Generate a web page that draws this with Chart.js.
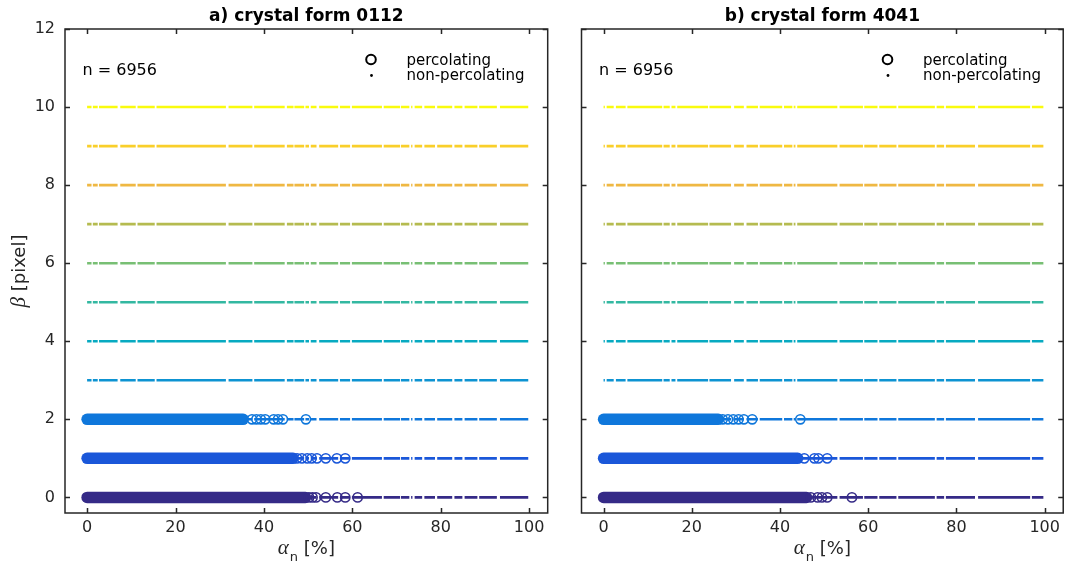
<!DOCTYPE html>
<html>
<head>
<meta charset="utf-8">
<script src="https://cdn.jsdelivr.net/npm/chart.js@4.4.1/dist/chart.umd.min.js"></script>
<style>
  html, body { margin: 0; padding: 0; background: #fff; overflow: hidden; }
  #wrap { position: relative; width: 1065px; height: 570px; }
  canvas { position: absolute; top: 0; }
  #cA { left: 0; }
  #cB { left: 560px; }
</style>
</head>
<body>
<div id="wrap">
  <canvas id="cA" width="560" height="570"></canvas>
  <canvas id="cB" width="505" height="570"></canvas>
</div>
<script>
// ---- data ---------------------------------------------------------------
const alphaTicks = [0, 20, 40, 60, 80, 100];
const betaTicks = [0, 2, 4, 6, 8, 10, 12];
const betaLevels = [0, 1, 2, 3, 4, 5, 6, 7, 8, 9, 10];
const levelColors = ['#352a87', '#1a57d9', '#0f77db', '#0d93d2', '#07aac1', '#33b8a1',
                     '#78bf74', '#b5bb50', '#efb843', '#f9cf2a', '#f9fb0e'];
const sampleCount = 6956;

// alpha runs [from, to] covered by non-percolating samples (same for every beta)
const runsA = [[0, 1.0], [1.3, 2.4], [2.7, 6.9], [7.5, 11], [11.4, 15.3], [15.7, 31.4],
  [32, 37.4], [37.8, 44.7], [45.2, 46.7], [46.9, 49.1], [49.4, 50.2], [50.6, 51.9],
  [52.5, 56.8], [57.2, 59.5], [59.9, 66.7], [67.1, 70.8], [71, 72.9], [73.3, 73.6],
  [74.1, 75.8], [76.3, 78.7], [79.2, 82.6], [83.1, 84.9], [85.4, 88.3], [88.7, 92.7],
  [93.4, 99.8]];
const runsB = [[0, 0.3], [0.7, 2.3], [2.8, 5.0], [5.4, 13.3], [13.6, 15], [15.4, 16.3],
  [16.7, 23.7], [24, 28.9], [29.6, 31.8], [32.4, 35], [35.4, 40.5], [40.9, 42.8],
  [43.1, 43.5], [43.9, 53], [53.5, 58.8], [59.1, 62.1], [62.5, 66.4], [66.8, 75.1],
  [75.5, 77.2], [77.6, 84.2], [84.9, 96.7], [97.1, 99.7]];

// percolating samples: dense range from alpha = 0 up to bandEnd, plus isolated samples
const bandEndA = [49.4, 46.6, 35.3];
const percA = [
  [50.2, 51.0, 51.8, 54.0, 56.6, 58.4, 61.2],
  [47.5, 48.6, 49.8, 50.8, 52.0, 54.0, 56.5, 58.4],
  [37.3, 38.3, 39.3, 40.3, 42.2, 43.2, 44.3, 49.5]
];
const bandEndB = [46.0, 44.0, 26.0];
const percB = [
  [47.0, 48.5, 49.5, 50.7, 56.3],
  [45.5, 47.8, 48.7, 50.7],
  [27.0, 28.2, 29.4, 30.6, 31.8, 33.7, 44.6]
];

// ---- drawing ------------------------------------------------------------
const axisColor = '#262626';
const sansFont = '"DejaVu Sans", "Liberation Sans", sans-serif';
const greekFont = '"Liberation Serif", "DejaVu Serif", serif';

const decor = {
  id: 'decor',
  afterDraw(chart, args, o) {
    const ctx = chart.ctx, a = chart.chartArea;
    const xs = chart.scales.x, ys = chart.scales.y;
    ctx.save();

    // axes box with inward ticks on all four sides
    ctx.strokeStyle = axisColor;
    ctx.lineWidth = 1.5;
    ctx.strokeRect(a.left, a.top, a.right - a.left, a.bottom - a.top);
    ctx.beginPath();
    xs.ticks.forEach(t => {
      const px = Math.round(xs.getPixelForValue(t.value)) + 0.5;
      ctx.moveTo(px, a.bottom); ctx.lineTo(px, a.bottom - 5);
      ctx.moveTo(px, a.top); ctx.lineTo(px, a.top + 5);
    });
    ys.ticks.forEach(t => {
      const py = Math.round(ys.getPixelForValue(t.value)) + 0.5;
      ctx.moveTo(a.left, py); ctx.lineTo(a.left + 5, py);
      ctx.moveTo(a.right, py); ctx.lineTo(a.right - 5, py);
    });
    ctx.stroke();

    const cx = (a.left + a.right) / 2;

    // panel title
    ctx.fillStyle = '#000';
    ctx.textBaseline = 'alphabetic';
    ctx.textAlign = 'center';
    ctx.font = 'bold 17px ' + sansFont;
    ctx.fillText(o.title, cx, 21);

    // x axis label: alpha with subscript n
    ctx.fillStyle = axisColor;
    ctx.textAlign = 'left';
    const fA = 'italic 21px ' + greekFont, fSub = '13px ' + sansFont, fMain = '18px ' + sansFont;
    ctx.font = fA; const wA = ctx.measureText('α').width;
    ctx.font = fSub; const wS = ctx.measureText('n').width;
    ctx.font = fMain; const wR = ctx.measureText(' [%]').width;
    let x0 = cx - (wA + wS + 1 + wR) / 2;
    ctx.font = fA; ctx.fillText('α', x0, 554);
    ctx.font = fSub; ctx.fillText('n', x0 + wA + 1, 561);
    ctx.font = fMain; ctx.fillText(' [%]', x0 + wA + wS + 1, 554);

    // y axis label
    if (o.yLabel) {
      const cy = (a.top + a.bottom) / 2;
      ctx.save();
      ctx.translate(25, cy);
      ctx.rotate(-Math.PI / 2);
      const fB = 'italic 21px ' + greekFont;
      ctx.font = fB; const wB = ctx.measureText('β').width;
      ctx.font = fMain; const wP = ctx.measureText(' [pixel]').width;
      const s = -(wB + wP) / 2;
      ctx.font = fB; ctx.fillText('β', s, 0);
      ctx.font = fMain; ctx.fillText(' [pixel]', s + wB, 0);
      ctx.restore();
    }

    // sample count
    ctx.fillStyle = '#000';
    ctx.font = '16px ' + sansFont;
    ctx.fillText('n = ' + sampleCount, a.left + 17.5, 75);

    // legend
    const lx = a.left + 306, tx = a.left + 341.5;
    ctx.strokeStyle = '#000';
    ctx.lineWidth = 2;
    ctx.beginPath(); ctx.arc(lx, 59.5, 4.8, 0, Math.PI * 2); ctx.stroke();
    ctx.fillStyle = '#000';
    ctx.beginPath(); ctx.arc(lx + 0.5, 75.5, 1.4, 0, Math.PI * 2); ctx.fill();
    ctx.font = '15px ' + sansFont;
    ctx.fillText('percolating', tx, 65);
    ctx.fillText('non-percolating', tx, 80);

    ctx.restore();
  }
};

function buildPanel(canvasId, p) {
  const datasets = [];
  betaLevels.forEach((b, i) => {
    const pts = [];
    p.runs.forEach(r => {
      pts.push({ x: r[0], y: b }, { x: r[1], y: b }, { x: r[1], y: null });
    });
    datasets.push({
      data: pts, showLine: true, spanGaps: false,
      borderColor: levelColors[i], borderWidth: 2.6, borderCapStyle: 'butt',
      pointRadius: 0, pointHoverRadius: 0, order: 3
    });
  });
  p.bandEnd.forEach((e, i) => {
    datasets.push({
      data: [{ x: 0, y: betaLevels[i] }, { x: e, y: betaLevels[i] }],
      showLine: true, borderColor: levelColors[i], borderWidth: 11.5,
      borderCapStyle: 'round', pointRadius: 0, pointHoverRadius: 0, order: 2
    });
  });
  p.perc.forEach((arr, i) => {
    datasets.push({
      data: arr.map(v => ({ x: v, y: betaLevels[i] })),
      showLine: false, pointStyle: 'circle', pointRadius: 4.6, pointHoverRadius: 4.6,
      borderWidth: 1.6, pointBorderColor: levelColors[i], borderColor: levelColors[i],
      backgroundColor: 'rgba(0,0,0,0)', order: 1
    });
  });

  return new Chart(document.getElementById(canvasId), {
    type: 'scatter',
    data: { datasets },
    options: {
      responsive: false,
      animation: false,
      devicePixelRatio: 1,
      events: [],
      layout: { autoPadding: false, padding: { top: 29, right: p.padRight, left: 0, bottom: 0 } },
      plugins: {
        legend: { display: false },
        tooltip: { enabled: false },
        decor: { title: p.title, yLabel: p.yLabel }
      },
      scales: {
        x: {
          type: 'linear', position: 'bottom', min: -5, max: 104.2,
          grid: { display: false, drawTicks: false },
          border: { display: false },
          ticks: {
            color: axisColor, padding: 5, maxRotation: 0, autoSkip: false,
            font: { family: sansFont, size: 16 }
          },
          afterBuildTicks: s => { s.ticks = alphaTicks.map(v => ({ value: v })); },
          afterFit: s => { s.height = 57; }
        },
        y: {
          type: 'linear', position: 'left', min: -0.4, max: 12,
          grid: { display: false, drawTicks: false },
          border: { display: false },
          ticks: {
            display: p.yLabel, color: axisColor, padding: 10,
            font: { family: sansFont, size: 16 }
          },
          afterBuildTicks: s => { s.ticks = betaTicks.map(v => ({ value: v })); },
          afterFit: s => { s.width = p.yWidth; }
        }
      }
    },
    plugins: [decor]
  });
}

buildPanel('cA', {
  title: 'a) crystal form 0112', yLabel: true, yWidth: 65, padRight: 12.3,
  runs: runsA, bandEnd: bandEndA, perc: percA
});
buildPanel('cB', {
  title: 'b) crystal form 4041', yLabel: false, yWidth: 21.5, padRight: 0.8,
  runs: runsB, bandEnd: bandEndB, perc: percB
});
</script>
</body>
</html>
